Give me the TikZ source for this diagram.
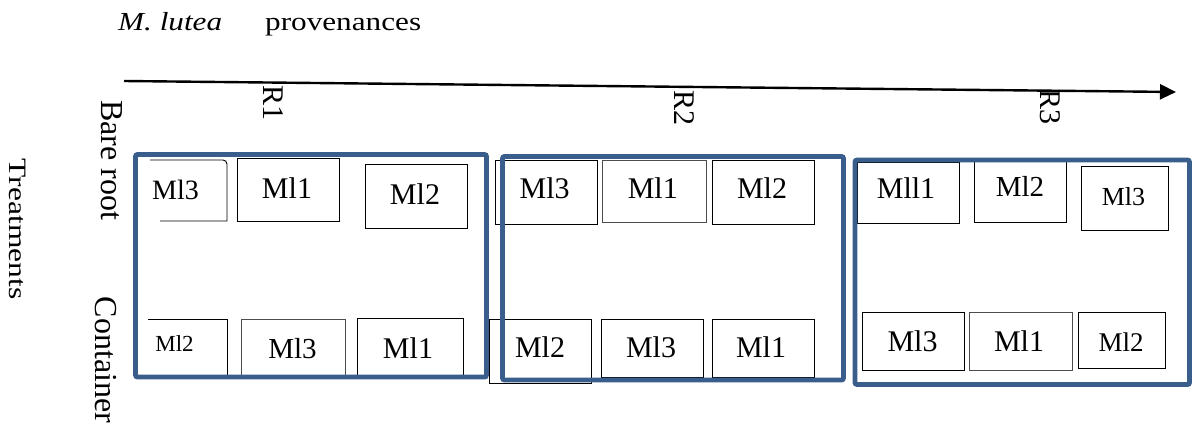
\documentclass[tikz,border=0pt]{standalone}
\usepackage{fontspec}
\setmainfont{Liberation Serif}
\usetikzlibrary{arrows.meta}
\definecolor{framebl}{HTML}{3A5E8C}
\newcommand{\fsz}[1]{\fontsize{#1}{#1}\selectfont}

\begin{document}
\begin{tikzpicture}[x=1pt,y=-1pt,
  cell/.style 2 args={draw=black, line width=0.95pt, inner sep=0pt,
    minimum width=#1pt, minimum height=#2pt},
  greycell/.style={draw=black!70},
  lab/.style={inner sep=0pt, anchor=base, text=black},
  side/.style={inner sep=0pt, rotate=-90, text=black},
  frame/.style={draw=framebl, line width=4.8pt, rounded corners=2pt},
  open/.style={draw=black, line width=0.95pt},
  axis/.style={draw=black, line width=2.4pt,
    -{Triangle[length=16pt, width=15pt]}}]
\useasboundingbox (0,0) rectangle (1194,423);

% heading
\node[inner sep=0pt, anchor=base west] (sp) at (118,30)
  {\fsz{26}\scalebox{1.2}[1]{\itshape M. lutea}};
\node[inner sep=0pt, anchor=base west] (prov) at (265,30)
  {\fsz{26}\scalebox{1.2}[1]{provenances}};

% provenance axis
\coordinate (ax0) at (124,81);
\coordinate (ax1) at (1176,92);
\draw[axis] (ax0) -- (ax1);

% replicate labels
\node[side, font=\fsz{30}] (r1) at (273,103) {R1};
\node[side, font=\fsz{30}] (r2) at (684,108) {R2};
\node[side, font=\fsz{30}] (r3) at (1050,107) {R3};

% treatment labels
\node[side] (treat) at (17.5,229) {\fsz{25}\scalebox{1.26}[1]{Treatments}};
\node[side, font=\fsz{32}] (bare) at (111.5,160) {Bare root};
\node[side, font=\fsz{32}] (cont) at (105.5,360) {Container};

% ---- R1 plots ----
\coordinate (a1) at (150,160);
\coordinate (a2) at (223,160);
\coordinate (a3) at (227,164);
\coordinate (a4) at (227,221);
\coordinate (a5) at (160,221);
\draw[open] (a1) -- (a2) to[out=0,in=90] (a3) -- (a4) -- (a5);
\node[lab, font=\fsz{28}] (t11) at (175.5,199) {Ml3};
\node[cell={102}{63}] (b12) at (288,189.5) {};
\node[lab, font=\fsz{30}] (t12) at (287,198) {Ml1};
\node[cell={102}{64}] (b13) at (416,196) {};
\node[lab, font=\fsz{30}] (t13) at (415,204) {Ml2};

\coordinate (c1) at (148,319);
\coordinate (c2) at (227,319);
\coordinate (c3) at (227,375);
\draw[open] (c1) -- (c2) -- (c3);
\node[lab, font=\fsz{23}] (t14) at (174.5,351) {Ml2};
\node[cell={104}{58}, greycell] (b15) at (293,348) {};
\node[lab, font=\fsz{29}] (t15) at (292.5,358) {Ml3};
\node[cell={106}{59}] (b16) at (410,347.5) {};
\node[lab, font=\fsz{30}] (t16) at (408,358) {Ml1};

% ---- R2 plots ----
\node[cell={102}{64}] (b21) at (546,192) {};
\node[lab, font=\fsz{30}] (t21) at (544.7,198) {Ml3};
\node[cell={104}{62}, greycell] (b22) at (654,191) {};
\node[lab, font=\fsz{30}] (t22) at (652.8,198) {Ml1};
\node[cell={102}{64}] (b23) at (763,192) {};
\node[lab, font=\fsz{30}] (t23) at (762,198) {Ml2};

\node[cell={102}{64}] (b24) at (540,351) {};
\node[lab, font=\fsz{30}] (t24) at (540,357.7) {Ml2};
\node[cell={102}{58}] (b25) at (652,348) {};
\node[lab, font=\fsz{30}] (t25) at (651,357.7) {Ml3};
\node[cell={102}{58}] (b26) at (763,348) {};
\node[lab, font=\fsz{30}] (t26) at (761,357.7) {Ml1};

% ---- R3 plots ----
\node[cell={102}{61}] (b31) at (908,192.5) {};
\node[lab, font=\fsz{30}] (t31) at (906,198.3) {Mll1};
\node[cell={92}{64}] (b32) at (1020,190) {};
\node[lab, font=\fsz{29}] (t32) at (1020,196.7) {Ml2};
\node[cell={87}{64}] (b33) at (1124.5,198) {};
\node[lab, font=\fsz{26}] (t33) at (1123.5,205.7) {Ml3};

\node[cell={102}{58}] (b34) at (913,341) {};
\node[lab, font=\fsz{30}] (t34) at (912.5,351.7) {Ml3};
\node[cell={103}{58}, greycell] (b35) at (1020.5,341) {};
\node[lab, font=\fsz{30}] (t35) at (1019,351.7) {Ml1};
\node[cell={87}{56}] (b36) at (1121.5,340) {};
\node[lab, font=\fsz{27}] (t36) at (1121,351.7) {Ml2};

% replicate blocks
\draw[frame] (135.5,154.5) rectangle (486.5,377);
\draw[frame] (502.5,156.5) rectangle (843.5,380);
\draw[frame] (855,160) rectangle (1189.5,384.5);
\end{tikzpicture}
\end{document}
